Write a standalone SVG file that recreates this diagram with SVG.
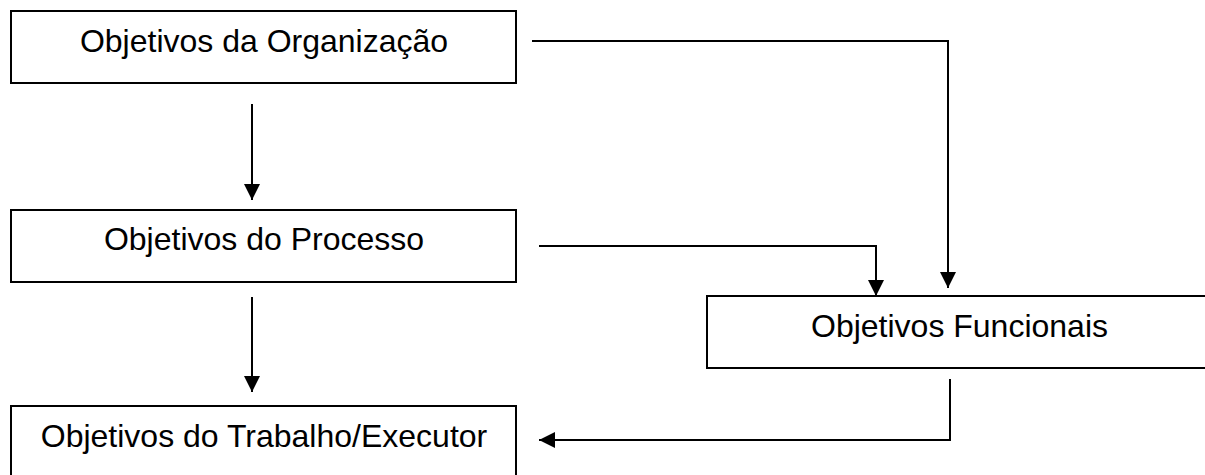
<svg xmlns="http://www.w3.org/2000/svg" width="1205" height="475" viewBox="0 0 1205 475">
<style>
.box{fill:#fff;stroke:#000;stroke-width:2}
.lbl{font-family:"Liberation Sans",Arial,sans-serif;font-size:32px;fill:#000;text-anchor:middle}
.conn{fill:none;stroke:#000;stroke-width:2}
</style>
<defs>
<marker id="arr" markerUnits="userSpaceOnUse" markerWidth="16" markerHeight="16" viewBox="0 0 15 15" refX="15" refY="7.5" orient="auto">
<path d="M0,0 L15,7.5 L0,15 z" fill="#000"/>
</marker>
</defs>
<rect width="1205" height="475" fill="#fff"/>
<g id="n-organizacao">
<rect class="box" x="11" y="11" width="505" height="72"/>
<text class="lbl" x="264" y="52">Objetivos da Organização</text>
</g>
<g id="n-processo">
<rect class="box" x="11" y="210" width="505" height="72"/>
<text class="lbl" x="264" y="250">Objetivos do Processo</text>
</g>
<g id="n-funcionais">
<rect class="box" x="707" y="296" width="505" height="72"/>
<text class="lbl" x="959.5" y="337">Objetivos Funcionais</text>
</g>
<g id="n-trabalho">
<rect class="box" x="11" y="406" width="505" height="72"/>
<text class="lbl" x="264" y="446.5">Objetivos do Trabalho/Executor</text>
</g>
<g id="connectors">
<path class="conn" d="M252,104 V200" marker-end="url(#arr)"/>
<path class="conn" d="M532,41 H948 V288" marker-end="url(#arr)"/>
<path class="conn" d="M539,246 H876 V296" marker-end="url(#arr)"/>
<path class="conn" d="M252,297 V392" marker-end="url(#arr)"/>
<path class="conn" d="M950,379 V440 H539" marker-end="url(#arr)"/>
</g>
</svg>
